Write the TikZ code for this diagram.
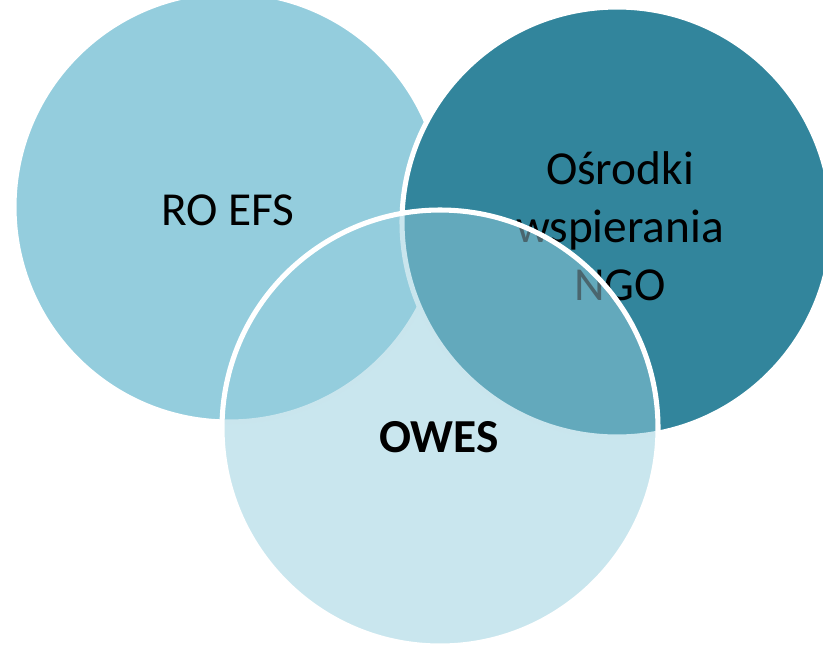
\documentclass[tikz,border=0pt]{standalone}
\usepackage{fontspec}
\setmainfont{Carlito}
\definecolor{vennlight}{RGB}{148,205,221}
\definecolor{venndark}{RGB}{50,133,156}
\tikzset{
    venn/.style={circle, draw=white, line width=3.8pt, inner sep=0pt, minimum size=#1},
    vennlabel/.style={align=center, inner sep=0pt, text=black, font=\fontsize{35.5}{43.5}\selectfont}
}
\begin{document}
\begin{tikzpicture}[x=0.75pt,y=-0.75pt]
            \clip (0,0) rectangle (823,647);

            % the three sets
            \node[venn=322.5pt, fill=vennlight] (roefs) at (229,207) {};
            \node[venn=322.5pt, fill=venndark] (osrodki) at (617,222) {};
            \node[vennlabel] (roefstext) at (228,210) {RO EFS};
            \node[vennlabel] (osrodkitext) at (620,226) {Ośrodki\\wspierania\\NGO};
            \node[venn=327pt, fill=vennlight, fill opacity=0.5] (owes) at (440,428) {};
            \node[vennlabel, font=\fontsize{35.5}{43.5}\selectfont\bfseries] (owestext) at (439,437) {OWES};
        \end{tikzpicture}
\end{document}
